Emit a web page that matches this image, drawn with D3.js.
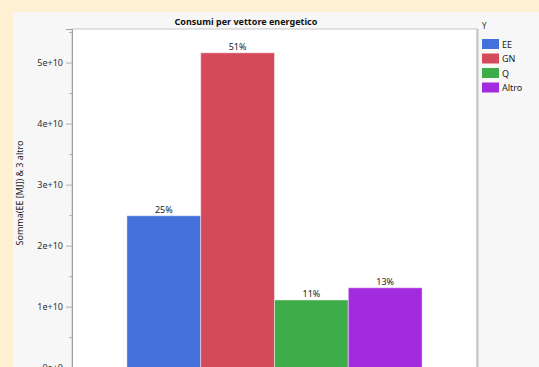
<!DOCTYPE html>
<html>
<head>
<meta charset="utf-8">
<script src="https://cdn.jsdelivr.net/npm/d3@7"></script>
<style>
  html, body { margin: 0; padding: 0; background: #fef1d3; overflow: hidden; }
  svg { display: block; font-family: "Noto Sans", "Open Sans", sans-serif; }
</style>
</head>
<body>
<svg id="chart" width="539" height="367"></svg>
<script>
const categories = ["EE", "GN", "Q", "Altro"];
const values = [2.49e10, 5.16e10, 1.11e10, 1.31e10];
const labels = ["25%", "51%", "11%", "13%"];
const colors = ["#4370da", "#d44a5a", "#3eac48", "#a22bdf"];
const yTicks = [0, 1e10, 2e10, 3e10, 4e10, 5e10];
const yMinorTicks = [0.5e10, 1.5e10, 2.5e10, 3.5e10, 4.5e10, 5.5e10];
const tickLabels = ["0e+0", "1e+10", "2e+10", "3e+10", "4e+10", "5e+10"];
const title = "Consumi per vettore energetico";
const yTitle = "Somma(EE [MJ]) & 3 altro";
const legendTitle = "Y";

const svg = d3.select("#chart");
const W = 539, H = 367;
const plot = { left: 72, right: 477, top: 29, bottom: 367.7 };

// panel
svg.append("rect").attr("x", 13).attr("y", 12).attr("width", W - 13).attr("height", H - 12).attr("fill", "#f7f7f7");
// cut-off glyph at top
svg.append("text").attr("x", 212).attr("y", -4).attr("font-size", 11).attr("fill", "#222").text("y");

// plot area
svg.append("rect").attr("x", plot.left).attr("y", plot.top)
  .attr("width", plot.right - plot.left).attr("height", H - plot.top + 5)
  .attr("fill", "#ffffff").attr("stroke", "#c8c8c8").attr("stroke-width", 1);
svg.append("line").attr("x1", plot.right + 0.5).attr("x2", plot.right + 0.5)
  .attr("y1", plot.top).attr("y2", H).attr("stroke", "#c4c4c4").attr("stroke-width", 2);

const y = d3.scaleLinear().domain([0, 5.55e10]).range([plot.bottom, plot.top]);
const x0 = d3.scaleBand().domain(["all"]).range([plot.left, plot.right]).paddingOuter(0.186).paddingInner(0);
const x1 = d3.scaleBand().domain(categories).range([0, x0.bandwidth()]).padding(0);

// y axis
const yAxis = d3.axisLeft(y).tickValues(yTicks).tickFormat((d, i) => tickLabels[i]).tickSize(6).tickPadding(3);
const gy = svg.append("g").attr("transform", `translate(${plot.left},0)`).call(yAxis);
gy.select(".domain").attr("stroke", "#a0a0a0");
gy.selectAll(".tick line").attr("stroke", "#b0b0b0");
gy.selectAll(".tick text").attr("fill", "#333").attr("font-size", 9).attr("font-family", "Noto Sans");
const gyMinor = svg.append("g").attr("transform", `translate(${plot.left},0)`)
  .call(d3.axisLeft(y).tickValues(yMinorTicks).tickSize(3).tickFormat(""));
gyMinor.select(".domain").remove();
gyMinor.selectAll(".tick line").attr("stroke", "#b0b0b0");

// bars
const g = svg.append("g").attr("transform", `translate(${x0("all")},0)`);
g.selectAll("rect.bar").data(categories).join("rect")
  .attr("class", "bar")
  .attr("x", d => x1(d))
  .attr("y", (d, i) => y(values[i]))
  .attr("width", x1.bandwidth())
  .attr("height", (d, i) => y(0) - y(values[i]))
  .attr("fill", (d, i) => colors[i])
  .attr("stroke", "rgba(255,255,255,0.45)")
  .attr("stroke-width", 1);
g.selectAll("text.lbl").data(categories).join("text")
  .attr("class", "lbl")
  .attr("x", d => x1(d) + x1.bandwidth() / 2)
  .attr("y", (d, i) => y(values[i]) - 3)
  .attr("text-anchor", "middle")
  .attr("font-size", 9).attr("fill", "#222")
  .text((d, i) => labels[i]);

// title
svg.append("text").attr("x", 246).attr("y", 25).attr("text-anchor", "middle")
  .attr("font-size", 9).attr("font-weight", "bold").attr("fill", "#111").text(title);

// y title
svg.append("text").attr("transform", "translate(23,193) rotate(-90)").attr("text-anchor", "middle")
  .attr("font-size", 9).attr("fill", "#222").text(yTitle);

// legend
svg.append("text").attr("x", 482).attr("y", 29).attr("font-size", 8).attr("fill", "#333").text(legendTitle);
const lg = svg.append("g").attr("transform", "translate(482,39)");
const items = lg.selectAll("g").data(categories).join("g").attr("transform", (d, i) => `translate(0,${i * 14.5})`);
items.append("rect").attr("width", 17).attr("height", 10).attr("fill", (d, i) => colors[i]);
items.append("text").attr("x", 20).attr("y", 8.5).attr("font-size", 9).attr("fill", "#222").text(d => d);
</script>
</body>
</html>
